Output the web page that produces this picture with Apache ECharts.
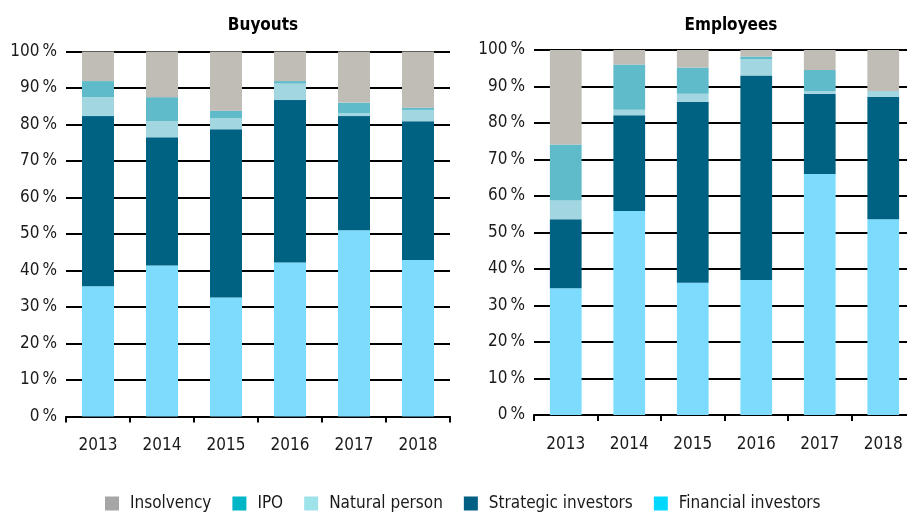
<!DOCTYPE html>
<html>
<head>
<meta charset="utf-8">
<script src="https://cdn.jsdelivr.net/npm/echarts@6/dist/echarts.min.js"></script>
<style>
	html, body {margin: 0; padding: 0; background: #fff;}
	#chart {width: 907px; height: 513px;}
</style>
</head>
<body>
<div id="chart"></div>
<script>
var years = ['2013', '2014', '2015', '2016', '2017', '2018'];
var yTicks = [0, 10, 20, 30, 40, 50, 60, 70, 80, 90, 100];
var seriesNames = ['Insolvency', 'IPO', 'Natural person', 'Strategic investors', 'Financial investors'];

// Buyouts, shares in %
var buyFinancial = [35.7, 41.4, 32.6, 42.2, 51.0, 42.9];
var buyStrategic = [46.6, 35.1, 46.1, 44.5, 31.3, 38.0];
var buyNatural = [5.2, 4.4, 3.0, 4.5, 0.8, 3.1];
var buyIPO = [4.4, 6.6, 2.1, 0.7, 2.9, 0.6];
var buyInsolvency = [8.1, 12.5, 16.2, 8.1, 14.0, 15.4];

// Employees, shares in %
var empFinancial = [34.7, 55.9, 36.2, 37.0, 66.0, 53.6];
var empStrategic = [18.9, 26.2, 49.6, 56.0, 22.0, 33.6];
var empNatural = [5.2, 1.5, 2.2, 4.5, 0.8, 1.6];
var empIPO = [15.3, 12.4, 7.2, 0.7, 5.7, 0];
var empInsolvency = [25.9, 4.0, 4.8, 1.8, 5.5, 11.2];

var barColors = {
	'Insolvency': '#bfbdb6',
	'IPO': '#5fbaca',
	'Natural person': '#a2d7e2',
	'Strategic investors': '#006283',
	'Financial investors': '#7ddcfd'
};
var legendColors = {
	'Insolvency': '#a6a6a6',
	'IPO': '#00b5c5',
	'Natural person': '#9ee3ea',
	'Strategic investors': '#005f83',
	'Financial investors': '#00d8ff'
};

var font = 'DejaVu Sans Condensed';

window.onload = function () {
	var myChart = echarts.init(document.getElementById('chart'));

	function xAxisFor(idx) {
		return {
			type: 'category',
			gridIndex: idx,
			data: years,
			axisLine: {lineStyle: {color: '#000', width: 2}},
			axisTick: {show: true, length: 6, lineStyle: {color: '#000', width: 2}},
			axisLabel: {color: '#1a1a1a', fontFamily: font, fontSize: 17, margin: 21}
		};
	}
	function yAxisFor(idx) {
		return {
			type: 'value',
			gridIndex: idx,
			min: yTicks[0],
			max: yTicks[yTicks.length - 1],
			interval: 10,
			axisLine: {show: false},
			axisTick: {show: false},
			splitLine: {lineStyle: {color: '#000', width: 2}},
			axisLabel: {
				color: '#1a1a1a', fontFamily: font, fontSize: 17, margin: 9,
				formatter: '{value}\u2009%'
			}
		};
	}
	function bar(name, data, idx) {
		return {
			name: name,
			type: 'bar',
			stack: 'panel' + idx,
			xAxisIndex: idx,
			yAxisIndex: idx,
			barWidth: '50%',
			data: data,
			itemStyle: {color: barColors[name]}
		};
	}

	var option = {
		animation: false,
		title: [
			{text: 'Buyouts', left: 258, top: 12, textAlign: 'center',
				textStyle: {fontFamily: font, fontSize: 17, fontWeight: 'bold', color: '#000'}},
			{text: 'Employees', left: 726, top: 12, textAlign: 'center',
				textStyle: {fontFamily: font, fontSize: 17, fontWeight: 'bold', color: '#000'}}
		],
		legend: {
			left: 100,
			top: 490,
			itemWidth: 14,
			itemHeight: 14,
			itemGap: 21,
			icon: 'rect',
			textStyle: {fontFamily: font, fontSize: 17, color: '#1a1a1a', padding: [0, 0, 0, 6]},
			data: seriesNames.map(function (n) {
				return {name: n, itemStyle: {color: legendColors[n]}};
			})
		},
		grid: [
			{left: 66, top: 51.5, width: 384, height: 365, outerBoundsMode: 'none'},
			{left: 534, top: 50, width: 381, height: 365, outerBoundsMode: 'none'}
		],
		xAxis: [xAxisFor(0), xAxisFor(1)],
		yAxis: [yAxisFor(0), yAxisFor(1)],
		series: [
			bar('Financial investors', buyFinancial, 0),
			bar('Strategic investors', buyStrategic, 0),
			bar('Natural person', buyNatural, 0),
			bar('IPO', buyIPO, 0),
			bar('Insolvency', buyInsolvency, 0),
			bar('Financial investors', empFinancial, 1),
			bar('Strategic investors', empStrategic, 1),
			bar('Natural person', empNatural, 1),
			bar('IPO', empIPO, 1),
			bar('Insolvency', empInsolvency, 1)
		]
	};

	myChart.setOption(option);
};
</script>
</body>
</html>
